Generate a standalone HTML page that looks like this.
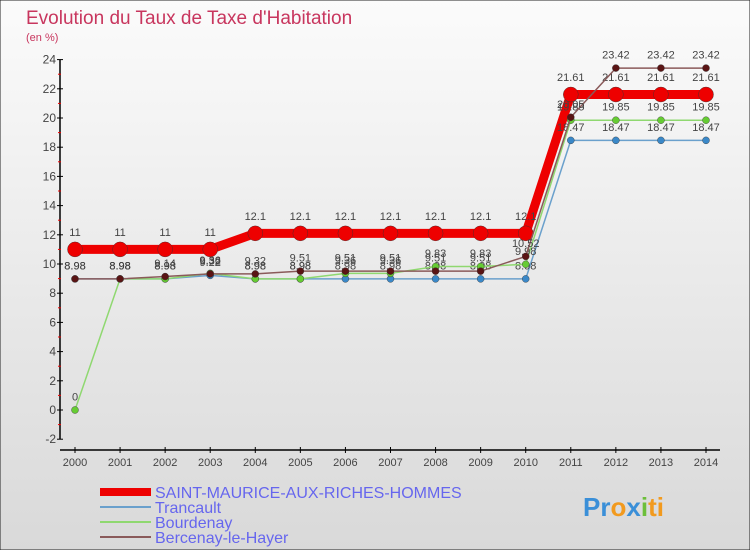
<!DOCTYPE html>
<html><head><meta charset="utf-8"><style>
body{margin:0;}
svg{display:block;font-family:"Liberation Sans",sans-serif;}
</style></head><body>
<svg id="chart" width="750" height="550" viewBox="0 0 750 550">
<defs><linearGradient id="bg" x1="0" y1="0" x2="0" y2="1"><stop offset="0" stop-color="#fbfbfb"/><stop offset="1" stop-color="#d9d9d9"/></linearGradient></defs>
<rect x="0" y="0" width="750" height="550" fill="url(#bg)" stroke="#222" stroke-width="1"/>
<text x="26" y="24" font-size="19" fill="#c8365e">Evolution du Taux de Taxe d'Habitation</text>
<text x="26" y="41" font-size="11" fill="#c8365e">(en %)</text>
<g id="axes"></g>
<g id="series"></g>
<g id="legend"></g>
<g>
<text x="583" y="516" font-size="26" font-weight="bold" fill="#3a8fd8">Pr<tspan fill="#f29a1e">o</tspan><tspan fill="#3a8fd8">x</tspan><tspan fill="#6cbf3a">i</tspan><tspan fill="#f29a1e">ti</tspan></text>
</g>
</svg>
<script>
const years=[2000,2001,2002,2003,2004,2005,2006,2007,2008,2009,2010,2011,2012,2013,2014];
const yTicks=[-2,0,2,4,6,8,10,12,14,16,18,20,22,24];
const saintMaurice=[11,11,11,11,12.1,12.1,12.1,12.1,12.1,12.1,12.1,21.61,21.61,21.61,21.61];
const trancault=[8.98,8.98,8.98,9.22,8.98,8.98,8.98,8.98,8.98,8.98,8.98,18.47,18.47,18.47,18.47];
const bourdenay=[0,8.98,8.98,9.36,8.98,8.98,9.36,9.36,9.83,9.83,9.98,19.85,19.85,19.85,19.85];
const bercenay=[8.98,8.98,9.14,9.32,9.32,9.51,9.51,9.51,9.51,9.51,10.52,20.05,23.42,23.42,23.42];
const seriesNames=["SAINT-MAURICE-AUX-RICHES-HOMMES","Trancault","Bourdenay","Bercenay-le-Hayer"];
const NS="http://www.w3.org/2000/svg";
const X0=75,X1=706,Y0=410,PU=14.6;
function xs(i){return X0+i*(X1-X0)/(years.length-1);}
function ys(v){return Y0-v*PU;}
function mk(t,a,p){const e=document.createElementNS(NS,t);for(const k in a)e.setAttribute(k,a[k]);p.appendChild(e);return e;}
const ax=document.getElementById('axes');
let e=mk('line',{x1:60,y1:ys(24),x2:60,y2:ys(-2),stroke:'#000','stroke-width':1.5},ax);


e=mk('line',{x1:60,y1:450,x2:720,y2:450,stroke:'#000','stroke-width':1.5},ax);


yTicks.forEach(v=>{
  mk('line',{x1:57,x2:63,y1:ys(v),y2:ys(v),stroke:'#000'},ax);
  if(v<24) mk('line',{x1:58,x2:61,y1:ys(v+1),y2:ys(v+1),stroke:'#e00'},ax);
  const t=mk('text',{x:56,y:ys(v)+4,'text-anchor':'end','font-size':12,fill:'#444'},ax);
  t.textContent=v;
  
  
});
years.forEach((y,i)=>{
  mk('line',{x1:xs(i),x2:xs(i),y1:447,y2:453,stroke:'#000'},ax);
  const t=mk('text',{x:xs(i),y:466,'text-anchor':'middle','font-size':11,fill:'#444'},ax);
  t.textContent=y;
  
  
});
const sg=document.getElementById('series');
const defs=[[saintMaurice,'#ee0000','#ee0000',9,7.5,'saint-maurice'],[trancault,'#6aa0cc','#3a88c8',1.5,3.5,'trancault'],[bourdenay,'#8fd870','#66cc33',1.5,3.5,'bourdenay'],[bercenay,'#8a5a5a','#5a1414',1.5,3.5,'bercenay']];
defs.forEach(([d,lc,pc,w,r,n])=>{
  const g=mk('g',{},sg);
  
  
  const p=mk('polyline',{points:d.map((v,i)=>xs(i)+','+ys(v)).join(' '),fill:'none',stroke:lc,'stroke-width':w},g);
  
  
  d.forEach((v,i)=>{
    const c=mk('circle',{cx:xs(i),cy:ys(v),r:r,fill:pc,stroke:'#333','stroke-width':0.4},g);
    
    
    const t=mk('text',{x:xs(i),y:ys(v)-(r+6),'text-anchor':'middle','font-size':11,fill:'#444'},g);
    t.textContent=v;
    
    
  });
});
const lg=document.getElementById('legend');
const lc=['#ee0000','#6aa0cc','#8fd870','#8a5a5a'],lw=[8,2,2,2];
seriesNames.forEach((n,i)=>{
  const y=492+i*15;
  const g=mk('g',{},lg);
  
  
  mk('line',{x1:100,x2:151,y1:y,y2:y,stroke:lc[i],'stroke-width':lw[i]},g);
  const t=mk('text',{x:155,y:y+6,'font-size':16,fill:'#6666ee'},g);
  t.textContent=n;
});
</script>
</body></html>
